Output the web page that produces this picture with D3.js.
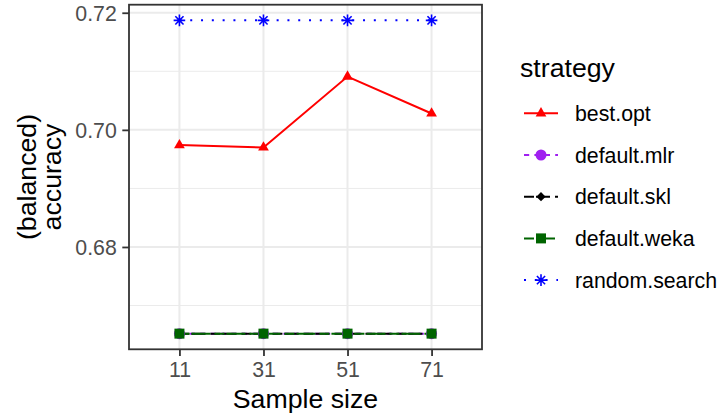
<!DOCTYPE html>
<html>
<head>
<meta charset="utf-8">
<script src="https://cdn.jsdelivr.net/npm/d3@7"></script>
<style>
  html, body { margin: 0; padding: 0; background: #fff; }
  svg { display: block; font-family: "Liberation Sans", Arial, Helvetica, sans-serif; }
</style>
</head>
<body>
<svg id="chart" width="719" height="414"></svg>
<script>
// ---- data ----
const sampleSizes = ["11", "31", "51", "71"];
const strategies = ["best.opt", "default.mlr", "default.skl", "default.weka", "random.search"];
const bestOpt      = [0.6974, 0.6970, 0.7091, 0.7028];
const defaultMlr   = [0.6652, 0.6652, 0.6652, 0.6652];
const defaultSkl   = [0.6652, 0.6652, 0.6652, 0.6652];
const defaultWeka  = [0.6652, 0.6652, 0.6652, 0.6652];
const randomSearch = [0.7187, 0.7187, 0.7187, 0.7187];
const yMajorTicks = [0.68, 0.70, 0.72];
const yMinorTicks = [0.67, 0.69, 0.71];

const seriesValues = [bestOpt, defaultMlr, defaultSkl, defaultWeka, randomSearch];

// ---- styles ----
const colors = ["#FF0000", "#A020F0", "#000000", "#006400", "#0000FF"];
const dashes = [null, "5.2,5.2", "10,2,14,5", "10,2,19,4", "2,8.8"];
const shapes = ["triangle", "circle", "diamond", "square", "asterisk"];

const series = strategies.map((s, i) => ({
  name: s, color: colors[i], dash: dashes[i], shape: shapes[i],
  values: sampleSizes.map((x, j) => ({ x, y: seriesValues[i][j] }))
}));

const svg = d3.select("#chart");
const panel = { left: 129, right: 482, top: 4.7, bottom: 349.3 };

const x = d3.scalePoint().domain(sampleSizes).range([panel.left, panel.right]).padding(0.6);
const allVals = seriesValues.flat();
const [vmin, vmax] = d3.extent(allVals);
const pad = (vmax - vmin) * 0.05;
const y = d3.scaleLinear().domain([vmin - pad, vmax + pad]).range([panel.bottom, panel.top]);

// panel background
svg.append("rect").attr("x", panel.left).attr("y", panel.top)
  .attr("width", panel.right - panel.left).attr("height", panel.bottom - panel.top)
  .attr("fill", "#fff");

// grid
const grid = svg.append("g");
grid.selectAll(".ymin").data(yMinorTicks).join("line")
  .attr("x1", panel.left).attr("x2", panel.right)
  .attr("y1", d => y(d)).attr("y2", d => y(d))
  .attr("stroke", "#EBEBEB").attr("stroke-width", 1);
grid.selectAll(".ymaj").data(yMajorTicks).join("line")
  .attr("x1", panel.left).attr("x2", panel.right)
  .attr("y1", d => y(d)).attr("y2", d => y(d))
  .attr("stroke", "#EBEBEB").attr("stroke-width", 2);
grid.selectAll(".xmaj").data(sampleSizes).join("line")
  .attr("x1", d => x(d)).attr("x2", d => x(d))
  .attr("y1", panel.top).attr("y2", panel.bottom)
  .attr("stroke", "#EBEBEB").attr("stroke-width", 2);

// lines
const line = d3.line().x(d => x(d.x)).y(d => y(d.y));
svg.append("g").selectAll("path").data(series).join("path")
  .attr("d", d => line(d.values))
  .attr("fill", "none")
  .attr("stroke", d => d.color)
  .attr("stroke-width", 2)
  .attr("stroke-dasharray", d => d.dash);

// symbols
function drawShape(g, shape, color, cx, cy) {
  if (shape === "triangle") {
    g.append("path").attr("d", d3.symbol(d3.symbolTriangle, 50)())
      .attr("transform", `translate(${cx},${cy})`).attr("fill", color);
  } else if (shape === "circle") {
    g.append("circle").attr("cx", cx).attr("cy", cy).attr("r", 5.5).attr("fill", color);
  } else if (shape === "square") {
    g.append("rect").attr("x", cx - 5).attr("y", cy - 5).attr("width", 10).attr("height", 10).attr("fill", color);
  } else if (shape === "diamond") {
    const r = 4.6;
    g.append("path").attr("d", `M${cx},${cy - r}L${cx + r},${cy}L${cx},${cy + r}L${cx - r},${cy}Z`).attr("fill", color);
  } else if (shape === "asterisk") {
    const r = 5.8, q = r * Math.SQRT1_2;
    g.append("path")
      .attr("d", `M${cx - r},${cy}L${cx + r},${cy}M${cx},${cy - r}L${cx},${cy + r}` +
                 `M${cx - q},${cy - q}L${cx + q},${cy + q}M${cx - q},${cy + q}L${cx + q},${cy - q}`)
      .attr("stroke", color).attr("stroke-width", 1.6).attr("fill", "none");
  }
}
const pts = svg.append("g");
series.forEach(s => s.values.forEach(v => drawShape(pts, s.shape, s.color, x(v.x), y(v.y))));

// panel border
svg.append("rect").attr("x", panel.left).attr("y", panel.top)
  .attr("width", panel.right - panel.left).attr("height", panel.bottom - panel.top)
  .attr("fill", "none").attr("stroke", "#333333").attr("stroke-width", 1.8);

// axes
const yAxis = d3.axisLeft(y).tickValues(yMajorTicks).tickFormat(d3.format(".2f")).tickSize(6.7).tickPadding(5.5);
const gy = svg.append("g").attr("transform", `translate(${panel.left},0)`).call(yAxis);
const xAxis = d3.axisBottom(x).tickSize(6.7).tickPadding(5);
const gx = svg.append("g").attr("transform", `translate(0,${panel.bottom})`).call(xAxis);
[gy, gx].forEach(g => {
  g.select(".domain").remove();
  g.selectAll(".tick line").attr("stroke", "#333333").attr("stroke-width", 1.8);
  g.selectAll(".tick text").attr("fill", "#4D4D4D")
    .style("font-size", "21.3px").style("font-family", '"Liberation Sans", Arial, sans-serif');
});
gy.selectAll(".tick text").attr("dy", "0.36em");
gx.selectAll(".tick text").attr("dy", "0.74em");

// axis titles
svg.append("text").attr("x", (panel.left + panel.right) / 2).attr("y", 407.5)
  .attr("text-anchor", "middle").style("font-size", "26.7px").attr("fill", "#000")
  .text("Sample size");
const ytitle = ["(balanced)", "accuracy"];
const ymid = (panel.top + panel.bottom) / 2;
ytitle.forEach((t, i) => {
  svg.append("text")
    .attr("transform", `translate(${35.5 + i * 25},${ymid}) rotate(-90)`)
    .attr("text-anchor", "middle").style("font-size", "26.7px").attr("fill", "#000")
    .text(t);
});

// legend
const lg = svg.append("g");
lg.append("text").attr("x", 520).attr("y", 76.5).style("font-size", "26.7px").attr("fill", "#000").text("strategy");
const keyY0 = 113.3, keyStep = 41.7;
series.forEach((s, i) => {
  const cy = keyY0 + i * keyStep;
  lg.append("line").attr("x1", 524).attr("x2", 558).attr("y1", cy).attr("y2", cy)
    .attr("stroke", s.color).attr("stroke-width", 2).attr("stroke-dasharray", s.dash);
  drawShape(lg, s.shape, s.color, 541, cy);
  lg.append("text").attr("x", 575).attr("y", cy).attr("dy", "0.36em")
    .style("font-size", "21.3px").attr("fill", "#000").text(s.name);
});
</script>
</body>
</html>
